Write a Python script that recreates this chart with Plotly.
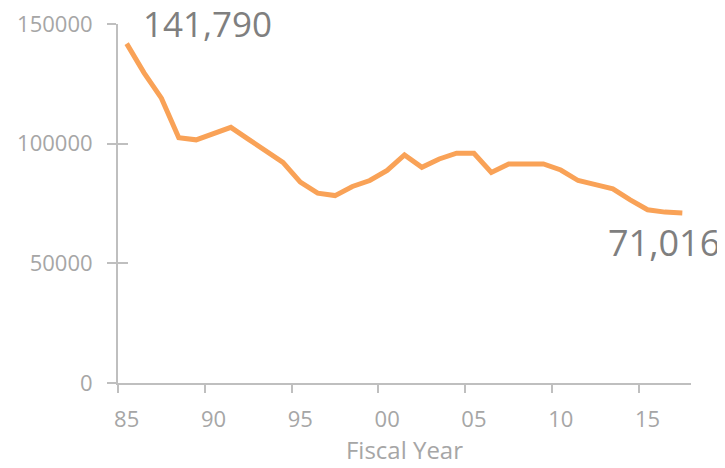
import plotly.graph_objects as go

years = list(range(1985, 2018))
values = [141790, 129600, 119000, 102500, 101600, 104200, 106800, 101900, 97000,
          92200, 83900, 79300, 78300, 82100, 84600, 88800, 95300, 90100, 93600,
          96000, 96000, 88000, 91500, 91500, 91500, 89000, 84600, 82900, 81100,
          76500, 72400, 71400, 71016]
tick_years = [1985, 1990, 1995, 2000, 2005, 2010, 2015]
tick_labels = ["85", "90", "95", "00", "05", "10", "15"]
y_ticks = [0, 50000, 100000, 150000]

AXIS = "#BFBFBF"
TICKFONT = dict(family="Open Sans", size=22, color="#A6A6A6")

fig = go.Figure()
fig.add_trace(go.Scatter(x=years, y=values, mode="lines",
                         line=dict(color="#F9A257", width=5), hoverinfo="skip",
                         showlegend=False))
# invisible trace for secondary (inside tick) y axis
fig.add_trace(go.Scatter(x=[years[0]], y=[values[0]], yaxis="y2", mode="lines",
                         line=dict(width=0), showlegend=False, hoverinfo="skip"))

fig.add_annotation(x=years[0], y=values[0], text=f"{values[0]:,}", showarrow=False,
                   xanchor="left", yanchor="middle", xshift=14, yshift=20,
                   font=dict(family="Open Sans", size=35, color="#7F7F7F"))
fig.add_annotation(x=years[-1], y=values[-1], text=f"{values[-1]:,}", showarrow=False,
                   xanchor="right", yanchor="middle", xshift=40, yshift=-29,
                   font=dict(family="Open Sans", size=36, color="#7F7F7F"))

# page has an 8px body margin: figure is sized/offset to compensate
fig.update_layout(
    width=717, height=460,
    margin=dict(l=110, r=34, t=16, b=85),
    paper_bgcolor="white", plot_bgcolor="white",
    xaxis=dict(range=[1984.5, 2017.5], tickvals=tick_years, ticktext=tick_labels,
               ticks="", showgrid=False, zeroline=False, automargin=False,
               showline=True, linecolor=AXIS, linewidth=2,
               tickfont=TICKFONT, ticklabelstandoff=16, ticklabeloverflow="allow",
               minor=dict(tick0=1984.5, dtick=5, ticks="outside", ticklen=8,
                          tickcolor=AXIS, tickwidth=2, showgrid=False),
               title=dict(text="Fiscal Year", font=dict(family="Open Sans", size=24, color="#A6A6A6"),
                          standoff=10)),
    yaxis=dict(range=[0, 150000], tickvals=y_ticks, tickformat="d", automargin=False,
               ticks="outside", ticklen=9, tickcolor=AXIS, tickwidth=2,
               showgrid=False, zeroline=False, showline=True, linecolor=AXIS, linewidth=2,
               tickfont=TICKFONT, ticklabelstandoff=10, ticklabeloverflow="allow"),
    yaxis2=dict(range=[0, 150000], tickvals=y_ticks, overlaying="y", side="left",
                ticks="inside", ticklen=10, tickcolor=AXIS, tickwidth=2, automargin=False,
                showticklabels=False, showgrid=False, zeroline=False, showline=False),
)

fig.write_html("out.html")
